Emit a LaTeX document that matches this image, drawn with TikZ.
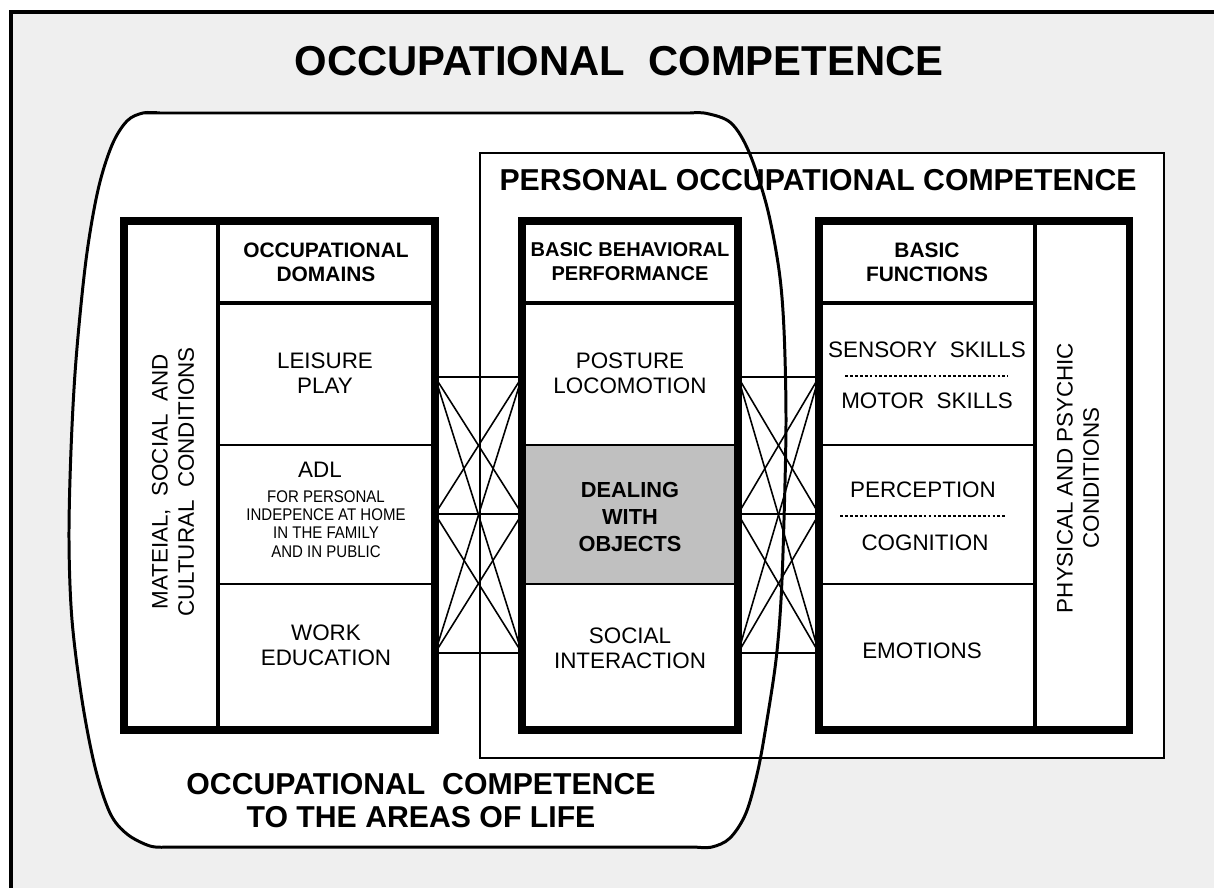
\documentclass[tikz,border=0pt]{standalone}
\usepackage{fontspec}
\setmainfont{Liberation Sans}
\newfontfamily\narrowfont[FakeStretch=0.89]{Liberation Sans}

\begin{document}
\begin{tikzpicture}[x=0.2mm,y=-0.2mm,
	frame/.style={line width=4pt},
	divider/.style={line width=2.8pt},
	thinline/.style={line width=1.2pt},
	link/.style={line width=0.9pt},
	sep/.style={line width=0.6pt,dash pattern=on 1.6pt off 1.2pt},
	ttl/.style={font=\fontsize{23.8}{27}\selectfont\bfseries},
	big/.style={font=\fontsize{17.2}{18.7}\selectfont\bfseries,align=center},
	head/.style={font=\fontsize{11.9}{13.6}\selectfont\bfseries,align=center},
	cell/.style={font=\fontsize{12.75}{14.2}\selectfont,align=center},
	small/.style={font=\fontsize{9.6}{10.4}\narrowfont,align=center},
	side/.style={font=\fontsize{12.75}{15}\selectfont,align=center,rotate=90}]

\definecolor{bggray}{RGB}{239,239,239}
\definecolor{cellgray}{RGB}{192,192,192}

\useasboundingbox (0,0) rectangle (1214,887);
\fill[white] (0,0) rectangle (1214,887);

\begin{scope}
\clip (0,0) rectangle (1214,887);
\fill[bggray] (11,12) rectangle (1230,900);
\draw[line width=2pt] (11,900)--(11,12)--(1230,12);
\end{scope}

\node[ttl] (title) at (619,61) {OCCUPATIONAL\ \ COMPETENCE};

% areas of life and personal competence
\fill[white] (480,153) rectangle (1164,758);
\draw[line width=1.7pt,fill=white] (143,113)--(690,113)
	--plot[smooth,tension=0.55] coordinates {(690,113) (707,113.5) (731,123) (749,152)
		(767,207) (779,270) (784,330) (786,420) (784,520) (781,600) (776,660)
		(767,720) (758,770) (746,813) (730,838) (712,847) (695,847)}
	--(168,847)
	--plot[smooth,tension=0.55] coordinates {(168,847) (150,846) (127,834) (110,813)
		(95,767) (82,700) (72,620) (69,540) (71,450) (76,360) (86,260) (98,190)
		(112,145) (127,121) (143,113) (160,113)}
	--cycle;
\draw[line width=1.6pt] (480,153) rectangle (1164,758);

\node[big] (personal) at (818,180) {PERSONAL OCCUPATIONAL COMPETENCE};
\node[big] (areas) at (421,801) {OCCUPATIONAL\ \ COMPETENCE\\TO THE AREAS OF LIFE};

% links
\foreach \i/\y in {1/377,2/514,3/653}{
	\coordinate (od\i) at (435,\y);
	\coordinate (bbw\i) at (522,\y);
	\coordinate (bbe\i) at (738,\y);
	\coordinate (bfw\i) at (819,\y);
}
\foreach \i in {1,2,3}{
	\foreach \j in {1,2,3}{
		\draw[link] (od\i)--(bbw\j);
		\draw[link] (bbe\i)--(bfw\j);
	}
}

% occupational domains
\draw[thinline,fill=white] (124,221) rectangle (435,730);
\draw[thinline] (218,445)--(435,445) (218,584)--(435,584);
\draw[divider] (218,221)--(218,730) (218,303)--(435,303);
\draw[frame] (124,221) rectangle (435,730);

% basic behavioral performance
\draw[thinline,fill=white] (522,221) rectangle (738,730);
\fill[cellgray] (522,445) rectangle (738,584);
\draw[thinline] (522,445)--(738,445) (522,584)--(738,584);
\draw[divider] (522,303)--(738,303);
\draw[frame] (522,221) rectangle (738,730);

% basic functions
\draw[thinline,fill=white] (819,221) rectangle (1129,730);
\draw[thinline] (819,445)--(1035,445) (819,584)--(1035,584);
\draw[divider] (1035,221)--(1035,730) (819,303)--(1035,303);
\draw[frame] (819,221) rectangle (1129,730);
\draw[sep] (845,376)--(1008,376);
\draw[sep] (840,516)--(1005,516);

\node[side] (material) at (173,482) {MATEIAL,\ \ SOCIAL\ \ AND\\CULTURAL\ \ CONDITIONS};
\node[head] (domains) at (326,262) {OCCUPATIONAL\\DOMAINS};
\node[cell] (leisure) at (325,373) {LEISURE\\PLAY};
\node[cell] (adl) at (320,470) {ADL};
\node[small] (adltext) at (326,524) {FOR PERSONAL\\INDEPENCE AT HOME\\IN THE FAMILY\\AND IN PUBLIC};
\node[cell] (work) at (326,645) {WORK\\EDUCATION};

\node[head,font=\fontsize{11.4}{13.6}\selectfont\bfseries] (behavior) at (630,262) {BASIC BEHAVIORAL\\PERFORMANCE};
\node[cell] (posture) at (630,373) {POSTURE\\LOCOMOTION};
\node[cell,font=\fontsize{12.4}{15.3}\selectfont\bfseries] (dealing) at (630,517) {DEALING\\WITH\\OBJECTS};
\node[cell] (social) at (630,648) {SOCIAL\\INTERACTION};

\node[head] (functions) at (927,262) {BASIC\\FUNCTIONS};
\node[cell] (sensory) at (927,350) {SENSORY\ \ SKILLS};
\node[cell] (motor) at (927,401) {MOTOR\ \ SKILLS};
\node[cell] (perception) at (923,490) {PERCEPTION};
\node[cell] (cognition) at (925,543) {COGNITION};
\node[cell] (emotions) at (922,651) {EMOTIONS};
\node[side] (physical) at (1078,478) {PHYSICAL AND PSYCHIC\\CONDITIONS};

\end{tikzpicture}
\end{document}
